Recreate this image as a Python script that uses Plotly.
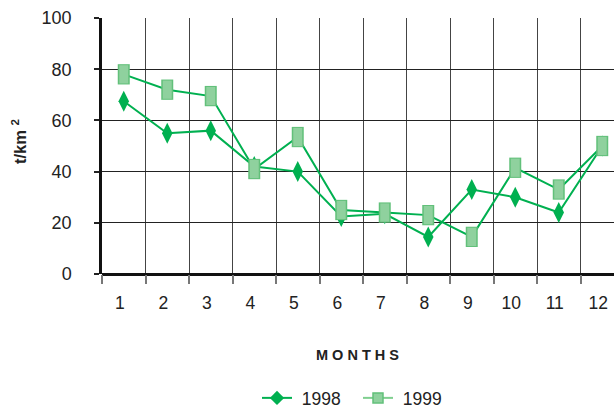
import plotly.graph_objects as go

months = [1, 2, 3, 4, 5, 6, 7, 8, 9, 10, 11, 12]
month_labels = [str(m) for m in months]
y1998 = [67.5, 55, 56, 42, 40, 22.5, 23.5, 14.5, 33, 30, 24, 50]
y1999 = [78, 72, 69.5, 41, 53.5, 25, 24, 23, 14.5, 41.5, 33, 50]

GREEN = "#00b050"
SQ_FILL = "#8fd19e"
SQ_EDGE = "#62c07a"
FONT = "Liberation Sans, Arial, sans-serif"

fig = go.Figure()
fig.add_trace(go.Scatter(x=months, y=y1998, mode="lines+markers", name="1998",
                         line=dict(color=GREEN, width=2),
                         marker=dict(symbol="diamond-tall", size=15, color=GREEN, line=dict(width=0)),
                         showlegend=False))
fig.add_trace(go.Scatter(x=months, y=y1999, mode="lines", name="1999",
                         line=dict(color=GREEN, width=2), showlegend=False))
fig.add_trace(go.Scatter(x=months, y=y1999, mode="markers", showlegend=False,
                         marker=dict(symbol="line-ns", size=14.5, line=dict(width=12, color=SQ_EDGE))))
fig.add_trace(go.Scatter(x=months, y=y1999, mode="markers", showlegend=False,
                         marker=dict(symbol="line-ns", size=13, line=dict(width=9, color=SQ_FILL))))
fig.add_trace(go.Scatter(x=[None], y=[None], mode="lines+markers", name=" 1998",
                         line=dict(color=GREEN, width=2),
                         marker=dict(symbol="diamond", size=11, color=GREEN, line=dict(width=0))))
fig.add_trace(go.Scatter(x=[None], y=[None], mode="lines+markers", name=" 1999",
                         line=dict(color="#7fcf8f", width=2),
                         marker=dict(symbol="square", size=10, color=SQ_FILL, line=dict(width=1.5, color=SQ_EDGE))))

fig.update_layout(
    width=614, height=408,
    margin=dict(l=102, r=0, t=18, b=134, autoexpand=False),
    paper_bgcolor="white", plot_bgcolor="white",
    font=dict(family=FONT, size=17, color="#222"),
    showlegend=True,
    legend=dict(orientation="h", x=(358 - 102) / 512, xanchor="center", y=-(398 - 274) / 256, yanchor="middle",
                font=dict(size=17.5, color="#222"), tracegroupgap=0, entrywidth=56),
    xaxis=dict(range=[0.5, 12.27], tickvals=months, ticktext=month_labels, automargin=False,
               showgrid=False, ticks="", ticklabelshift=-4, ticklabelstandoff=16,
               showline=False, zeroline=False, tickfont=dict(size=17.5),
               minor=dict(tick0=0.5, dtick=1, showgrid=True, gridcolor="#444", gridwidth=1,
                          ticks="outside", ticklen=9, tickcolor="#777", tickwidth=1.5)),
    yaxis=dict(range=[0, 100], dtick=20, showgrid=True, gridcolor="#222", gridwidth=1, automargin=False,
               ticks="outside", ticklen=5, tickcolor="#222", tickwidth=1.5,
               showline=True, linecolor="#111", linewidth=2.5, zeroline=True,
               zerolinecolor="#111", zerolinewidth=2.5, tickfont=dict(size=18),
               ticklabelstandoff=19),
)

fig.add_annotation(text="<b>M O N T H S</b>", xref="paper", yref="paper",
                   x=(357 - 102) / 512, y=-(355 - 274) / 256, xanchor="center", yanchor="middle",
                   showarrow=False, font=dict(size=14.5, color="#222", family=FONT))
fig.add_annotation(text="<b>t/km <sup>2</sup></b>", xref="paper", yref="paper",
                   x=-(102 - 19) / 512, y=(274 - 142) / 256, xanchor="center", yanchor="middle",
                   textangle=-90, showarrow=False, font=dict(size=16.5, color="#222", family=FONT))

fig.write_html("out.html", config={"displayModeBar": False},
               post_script="document.body.style.margin='0';")
